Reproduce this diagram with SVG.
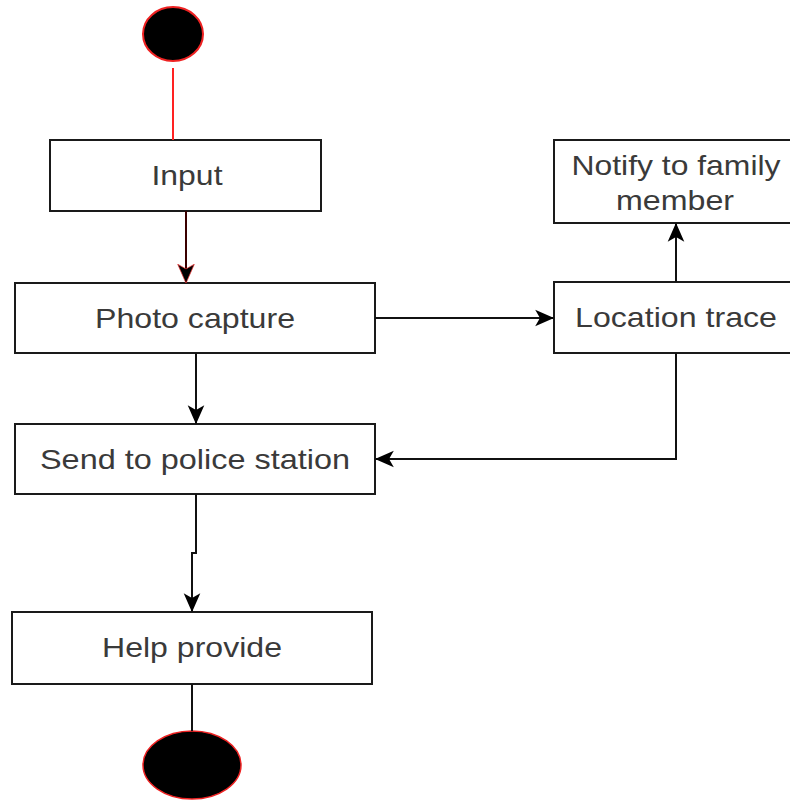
<svg xmlns="http://www.w3.org/2000/svg" width="790" height="800" viewBox="0 0 790 800">
<style>
.box{fill:#fff;stroke:#1a1a1a;stroke-width:2}
.lbl{font-family:"Liberation Sans",Arial,sans-serif;font-size:28px;fill:#3a3a3a;text-anchor:middle}
.edge{fill:none;stroke:#111;stroke-width:2}
</style>
<defs>
<marker id="arr" viewBox="0 0 16 16" refX="15" refY="8" markerWidth="19" markerHeight="19" markerUnits="userSpaceOnUse" orient="auto">
<path d="M0,1 L16,8 L0,15 L4,8 Z" fill="#000"/>
</marker>
<marker id="arrR" viewBox="0 0 16 16" refX="15" refY="8" markerWidth="19" markerHeight="19" markerUnits="userSpaceOnUse" orient="auto">
<path d="M0,1 L16,8 L0,15 L4,8 Z" fill="#000" stroke="#e33" stroke-width="0.6"/>
</marker>
</defs>
<g id="start"><ellipse cx="173" cy="34" rx="30" ry="27" fill="#000" stroke="#e22" stroke-width="2"/></g>
<g id="input"><rect class="box" x="50" y="140" width="271" height="71"/><text class="lbl" x="187" y="185" textLength="71" lengthAdjust="spacingAndGlyphs">Input</text></g>
<g id="photo"><rect class="box" x="15" y="283" width="360" height="70"/><text class="lbl" x="195" y="328" textLength="200" lengthAdjust="spacingAndGlyphs">Photo capture</text></g>
<g id="location"><rect class="box" x="554" y="282" width="246" height="71"/><text class="lbl" x="676" y="327" textLength="202" lengthAdjust="spacingAndGlyphs">Location trace</text></g>
<g id="notify"><rect class="box" x="554" y="140" width="246" height="83"/><text class="lbl" x="676" y="175" textLength="209" lengthAdjust="spacingAndGlyphs">Notify to family</text><text class="lbl" x="675" y="210" textLength="118" lengthAdjust="spacingAndGlyphs">member</text></g>
<g id="send"><rect class="box" x="15" y="424" width="360" height="70"/><text class="lbl" x="195" y="469" textLength="310" lengthAdjust="spacingAndGlyphs">Send to police station</text></g>
<g id="help"><rect class="box" x="12" y="612" width="360" height="72"/><text class="lbl" x="192" y="657" textLength="180" lengthAdjust="spacingAndGlyphs">Help provide</text></g>
<g id="end"><ellipse cx="192" cy="765" rx="49" ry="34" fill="#000" stroke="#e22" stroke-width="1.5"/></g>
<g id="connectors">
<line x1="173" y1="68" x2="173" y2="140" stroke="#f22" stroke-width="2"/>
<line x1="186" y1="211" x2="186" y2="282" stroke="#3a0000" stroke-width="2" marker-end="url(#arrR)"/>
<line class="edge" x1="375" y1="318" x2="553" y2="318" marker-end="url(#arr)"/>
<line class="edge" x1="676" y1="282" x2="676" y2="224" marker-end="url(#arr)"/>
<line class="edge" x1="196" y1="353" x2="196" y2="423" marker-end="url(#arr)"/>
<path class="edge" d="M676,353 V459 H376" marker-end="url(#arr)"/>
<path class="edge" d="M196,494 V553 H192 V611" marker-end="url(#arr)"/>
<line class="edge" x1="192" y1="684" x2="192" y2="731"/>
</g>
</svg>
